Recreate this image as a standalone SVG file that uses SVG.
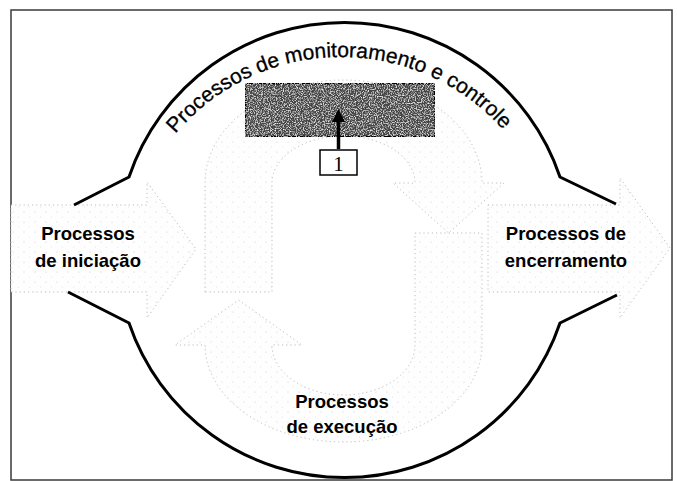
<svg xmlns="http://www.w3.org/2000/svg" width="677" height="481" viewBox="0 0 677 481">
<style>
.faint{fill:url(#dots);stroke:#bdbdbd;stroke-width:1;stroke-dasharray:1.2 3}
.outline{fill:none;stroke:#000;stroke-width:3;stroke-linejoin:miter}
.lbl{font-family:"Liberation Sans",Arial,sans-serif;font-weight:bold;font-size:18.5px;fill:#000}
.arc{font-family:"Liberation Sans",Arial,sans-serif;font-size:21px;fill:#000;stroke:#000;stroke-width:0.3}
</style>
<defs>
<pattern id="dots" width="11" height="10" patternUnits="userSpaceOnUse">
<rect width="11" height="10" fill="#fefefe"/>
<circle cx="2" cy="2" r="0.6" fill="#cfcfcf"/>
<circle cx="7.5" cy="7" r="0.5" fill="#dddddd"/>
</pattern>
<filter id="noise" x="0" y="0" width="100%" height="100%">
<feTurbulence type="fractalNoise" baseFrequency="0.85" numOctaves="2" seed="3" result="t"/>
<feColorMatrix in="t" type="matrix" values="0 0 0 0 1  0 0 0 0 1  0 0 0 0 1  0 0 0 2.4 -1.1" result="w"/>
<feComposite in="w" in2="SourceGraphic" operator="in" result="wc"/>
<feMerge><feMergeNode in="SourceGraphic"/><feMergeNode in="wc"/></feMerge>
</filter>
<path id="tp" d="M 137.1,199.8 A 217 217 0 0 1 544.9,199.8" fill="none"/>
</defs>
<rect x="11" y="10" width="661" height="470" fill="#fff" stroke="#3a3a3a" stroke-width="1.5"/>
<g id="iniciacao">
<path class="faint" d="M11,205 L147,205 L147,182 L196,249 L147,318 L147,292 L11,292 Z"/>
<text class="lbl" x="88" y="240" text-anchor="middle">Processos</text>
<text class="lbl" x="88" y="267" text-anchor="middle">de iniciação</text>
</g>
<g id="encerramento">
<path class="faint" d="M488,205 L620,205 L620,178 L670,248 L620,318 L620,292 L488,292 Z"/>
<text class="lbl" x="566" y="240" text-anchor="middle">Processos de</text>
<text class="lbl" x="566" y="267" text-anchor="middle">encerramento</text>
</g>
<g id="ciclo">
<path class="faint" d="M205,292 L205,183 A138.5,103 0 0 1 482,183 L504,183 L448.5,233 L393,183 L415,183 A71.5,47 0 0 0 272,183 L272,292 Z"/>
<path class="faint" d="M415,233 L482,233 L482,345 A138.5,97 0 0 1 205,345 L175,345 L238.5,300 L302,345 L272,345 A71.5,50 0 0 0 415,345 Z"/>
</g>
<g id="monitoramento">
<path class="outline" d="M74,205 L129,177 A227.5,227.5 0 0 1 560,177 L616,204"/>
<path class="outline" d="M68,292 L129,323 A227.5,227.5 0 0 0 560,323 L617,295"/>
<text class="arc"><textPath href="#tp" startOffset="49.5%" text-anchor="middle">Processos de monitoramento e controle</textPath></text>
</g>
<g id="execucao">
<text class="lbl" x="342" y="408" text-anchor="middle">Processos</text>
<text class="lbl" x="342" y="433" text-anchor="middle">de execução</text>
</g>
<g id="planejamento">
<rect x="245" y="83" width="190" height="54" fill="#444" stroke="#000" stroke-width="2.5" filter="url(#noise)"/>
</g>
<g id="rotulo1">
<rect x="320" y="150" width="37" height="25" fill="#fff" stroke="#000" stroke-width="1.5"/>
<text x="338.5" y="171" text-anchor="middle" font-family="'Liberation Serif','Times New Roman',serif" font-size="21" fill="#000">1</text>
</g>
<g id="conectores">
<line x1="338.5" y1="149" x2="338.5" y2="119" stroke="#000" stroke-width="3.5"/>
<path d="M332,122 L338.5,109 L345,122 Z" fill="#000"/>
</g>
</svg>
